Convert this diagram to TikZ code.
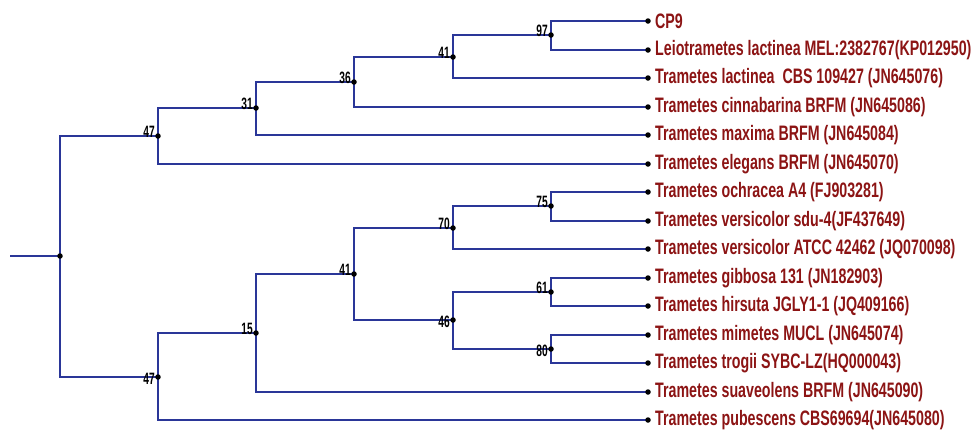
\documentclass[tikz,border=0pt]{standalone}
\usepackage{fontspec}
\newfontfamily\leaffont[FakeStretch=0.68]{Liberation Sans Bold}
\newfontfamily\bootfont[FakeStretch=0.62]{Liberation Sans Bold}
\definecolor{branch}{RGB}{42,54,152}
\definecolor{taxon}{RGB}{140,20,20}
\begin{document}
\begin{tikzpicture}[x=1bp,y=-1bp,
  branchline/.style={draw=branch,line width=2bp},
  joint/.style={circle,fill=black,inner sep=0pt,minimum size=5.5bp},
  taxonlabel/.style={anchor=west,inner sep=0pt,text=taxon,font=\leaffont\fontsize{21}{21}\selectfont},
  bootabove/.style={anchor=south east,inner sep=0pt,font=\bootfont\fontsize{16.5}{16.5}\selectfont},
  bootbelow/.style={anchor=north east,inner sep=0pt,font=\bootfont\fontsize{16.5}{16.5}\selectfont}]
\useasboundingbox (0,0) rectangle (974,430);

% leaves (tips at x = 648)
\foreach \name/\ypos in {cp/21,leio/50,lact/78,cinn/107,maxi/135,eleg/164,ochr/192,vsdu/221,vatc/249,gibb/278,hirs/306,mime/335,trog/363,suav/392,pube/420}
  \coordinate (\name) at (648,\ypos);

% internal nodes
\coordinate (n97)  at (551,35);
\coordinate (n41a) at (453,57);
\coordinate (n36)  at (354,82);
\coordinate (n31)  at (256,108);
\coordinate (n47a) at (158,136);
\coordinate (n75)  at (551,206);
\coordinate (n70)  at (453,228);
\coordinate (n61)  at (551,292);
\coordinate (n80)  at (551,349);
\coordinate (n46)  at (453,320);
\coordinate (n41b) at (354,274);
\coordinate (n15)  at (256,333);
\coordinate (n47b) at (158,377);
\coordinate (root) at (60,256);
\coordinate (stem) at (10,256);

% branches
\draw[branchline] (stem) -- (root);
\foreach \p/\c in {root/n47a,root/n47b,
  n47a/n31,n47a/eleg,n31/n36,n31/maxi,n36/n41a,n36/cinn,n41a/n97,n41a/lact,n97/cp,n97/leio,
  n47b/n15,n47b/pube,n15/n41b,n15/suav,n41b/n70,n41b/n46,n70/n75,n70/vatc,n75/ochr,n75/vsdu,
  n46/n61,n46/n80,n61/gibb,n61/hirs,n80/mime,n80/trog}
  \draw[branchline] (\p) |- (\c);

% joints
\foreach \n in {root,n47a,n31,n36,n41a,n97,n47b,n15,n41b,n70,n75,n46,n61,n80,
  cp,leio,lact,cinn,maxi,eleg,ochr,vsdu,vatc,gibb,hirs,mime,trog,suav,pube}
  \node[joint] at (\n) {};

% bootstrap values
\node[bootabove] (b97)  at ([xshift=-3bp,yshift=-2bp]n97)  {97};
\node[bootabove] (b41a) at ([xshift=-3bp,yshift=-2bp]n41a) {41};
\node[bootabove] (b36)  at ([xshift=-3bp,yshift=-2bp]n36)  {36};
\node[bootabove] (b31)  at ([xshift=-3bp,yshift=-2bp]n31)  {31};
\node[bootabove] (b47a) at ([xshift=-3bp,yshift=-2bp]n47a) {47};
\node[bootabove] (b75)  at ([xshift=-3bp,yshift=-2bp]n75)  {75};
\node[bootabove] (b70)  at ([xshift=-3bp,yshift=-2bp]n70)  {70};
\node[bootabove] (b61)  at ([xshift=-3bp,yshift=-2bp]n61)  {61};
\node[bootabove] (b41b) at ([xshift=-3bp,yshift=-2bp]n41b) {41};
\node[bootabove] (b15)  at ([xshift=-3bp,yshift=-2bp]n15)  {15};
\node[bootbelow] (b80)  at ([xshift=-3bp,yshift=4bp]n80)   {80};
\node[bootbelow] (b46)  at ([xshift=-3bp,yshift=4bp]n46)   {46};
\node[bootbelow] (b47b) at ([xshift=-3bp,yshift=4bp]n47b)  {47};

% taxon names
\node[taxonlabel] (tcp)   at ([xshift=7bp]cp)   {CP9};
\node[taxonlabel] (tleio) at ([xshift=7bp]leio) {Leiotrametes lactinea MEL:2382767(KP012950)};
\node[taxonlabel] (tlact) at ([xshift=7bp]lact) {Trametes lactinea\ \ CBS 109427 (JN645076)};
\node[taxonlabel] (tcinn) at ([xshift=7bp]cinn) {Trametes cinnabarina BRFM (JN645086)};
\node[taxonlabel] (tmaxi) at ([xshift=7bp]maxi) {Trametes maxima BRFM (JN645084)};
\node[taxonlabel] (teleg) at ([xshift=7bp]eleg) {Trametes elegans BRFM (JN645070)};
\node[taxonlabel] (tochr) at ([xshift=7bp]ochr) {Trametes ochracea A4 (FJ903281)};
\node[taxonlabel] (tvsdu) at ([xshift=7bp]vsdu) {Trametes versicolor sdu-4(JF437649)};
\node[taxonlabel] (tvatc) at ([xshift=7bp]vatc) {Trametes versicolor ATCC 42462 (JQ070098)};
\node[taxonlabel] (tgibb) at ([xshift=7bp]gibb) {Trametes gibbosa 131 (JN182903)};
\node[taxonlabel] (thirs) at ([xshift=7bp]hirs) {Trametes hirsuta JGLY1-1 (JQ409166)};
\node[taxonlabel] (tmime) at ([xshift=7bp]mime) {Trametes mimetes MUCL (JN645074)};
\node[taxonlabel] (ttrog) at ([xshift=7bp]trog) {Trametes trogii SYBC-LZ(HQ000043)};
\node[taxonlabel] (tsuav) at ([xshift=7bp]suav) {Trametes suaveolens BRFM (JN645090)};
\node[taxonlabel] (tpube) at ([xshift=7bp]pube) {Trametes pubescens CBS69694(JN645080)};
\end{tikzpicture}
\end{document}
